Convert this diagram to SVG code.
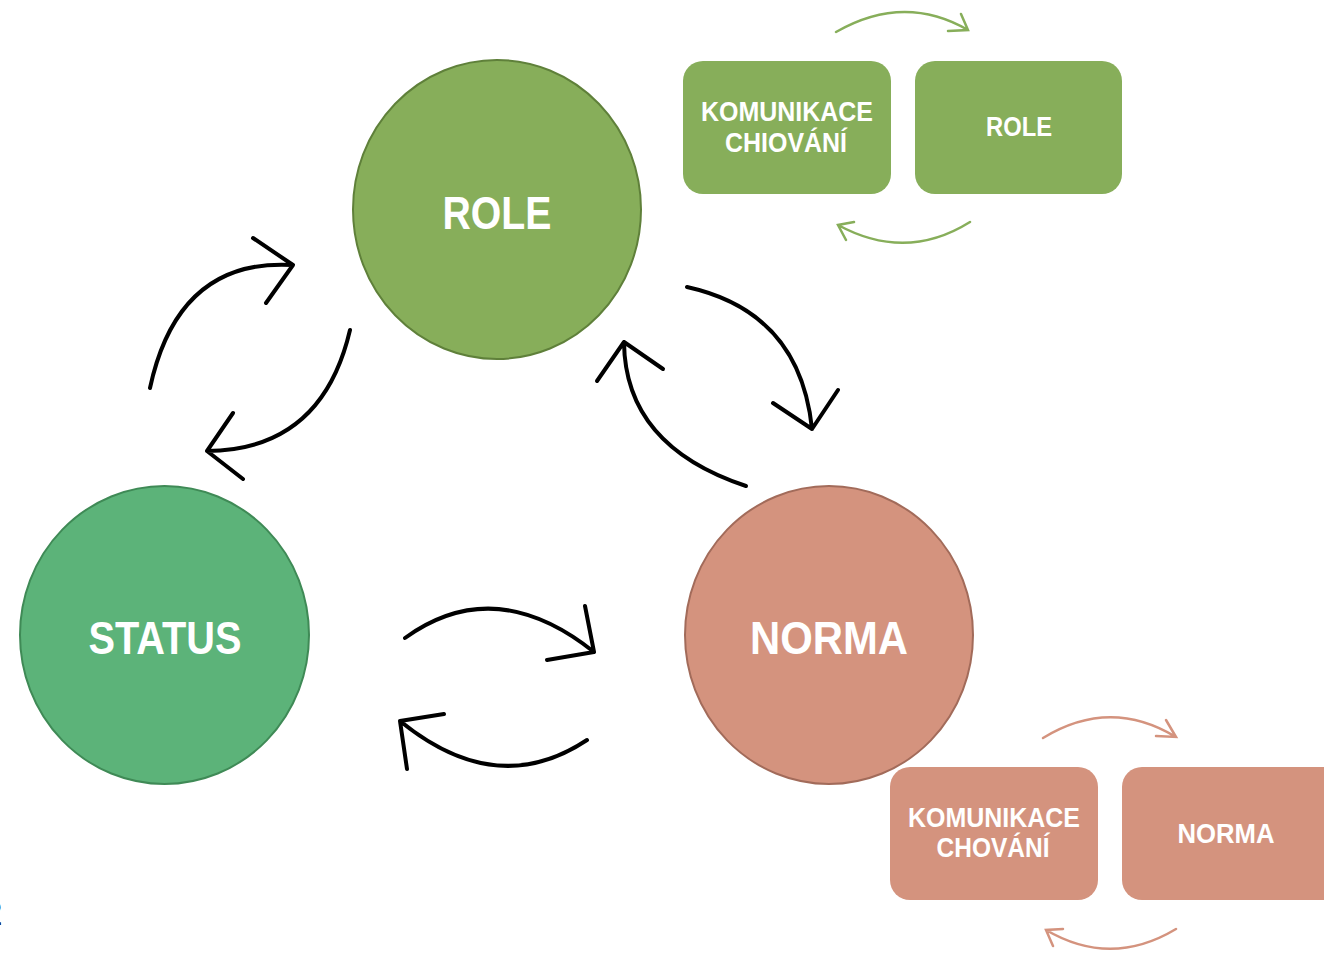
<svg xmlns="http://www.w3.org/2000/svg" width="1324" height="957" viewBox="0 0 1324 957">
<style>
.lbl{font-family:"Liberation Sans",Arial,sans-serif;font-weight:bold;fill:#ffffff;text-anchor:middle}
.big{font-size:46px}
.sm{font-size:27px}
.blk{fill:none;stroke:#000;stroke-width:4;stroke-linecap:round;stroke-linejoin:round}
.grn{fill:none;stroke:#87AE5A;stroke-width:2.5;stroke-linecap:round}
.sal{fill:none;stroke:#D4937E;stroke-width:2.5;stroke-linecap:round}
</style>
<rect width="1324" height="957" fill="#ffffff"/>
<text x="-17" y="925" font-family="Liberation Sans,Arial,sans-serif" font-size="35" fill="#000">2</text>
<g id="role">
<ellipse cx="497" cy="209.5" rx="144" ry="149.5" fill="#87AE5A" stroke="#5F803A" stroke-width="2"/>
<text class="lbl big" x="497" y="229" textLength="109" lengthAdjust="spacingAndGlyphs">ROLE</text>
</g>
<g id="status">
<ellipse cx="164.5" cy="635" rx="144.5" ry="149" fill="#5CB379" stroke="#3F8A56" stroke-width="2"/>
<text class="lbl big" x="165" y="654" textLength="153" lengthAdjust="spacingAndGlyphs">STATUS</text>
</g>
<g id="norma">
<ellipse cx="829" cy="635" rx="144" ry="149" fill="#D4937E" stroke="#A26B5A" stroke-width="2"/>
<text class="lbl big" x="829" y="654" textLength="158" lengthAdjust="spacingAndGlyphs">NORMA</text>
</g>
<g id="box-komunikace-role">
<rect x="683" y="61" width="208" height="133" rx="20" fill="#87AE5A"/>
<text class="lbl sm" x="787" y="121" textLength="172" lengthAdjust="spacingAndGlyphs">KOMUNIKACE</text>
<text class="lbl sm" x="786" y="152" textLength="122" lengthAdjust="spacingAndGlyphs">CHIOVÁNÍ</text>
</g>
<g id="box-role">
<rect x="915" y="61" width="207" height="133" rx="20" fill="#87AE5A"/>
<text class="lbl sm" x="1019" y="136" textLength="66" lengthAdjust="spacingAndGlyphs">ROLE</text>
</g>
<g id="box-komunikace-norma">
<rect x="890" y="767" width="208" height="133" rx="20" fill="#D4937E"/>
<text class="lbl sm" x="994" y="827" textLength="172" lengthAdjust="spacingAndGlyphs">KOMUNIKACE</text>
<text class="lbl sm" x="993" y="857" textLength="113" lengthAdjust="spacingAndGlyphs">CHOVÁNÍ</text>
</g>
<g id="box-norma">
<rect x="1122" y="767" width="220" height="133" rx="20" fill="#D4937E"/>
<text class="lbl sm" x="1226" y="843" textLength="97" lengthAdjust="spacingAndGlyphs">NORMA</text>
</g>
<g id="connectors">
<path class="blk" d="M150,388 Q178,258 293,265 M253,238 L293,265 L266,303"/>
<path class="blk" d="M350,330 Q322,450 207,451 M233,413 L207,451 L243,479"/>
<path class="blk" d="M687,287 Q800,312 812,429 M773,403 L812,429 L838,390"/>
<path class="blk" d="M746,486 Q625,446 624,342 M597,381 L624,342 L663,369"/>
<path class="blk" d="M405,638 Q495,573 594,652 M547,660 L594,652 L585,606"/>
<path class="blk" d="M587,740 Q497,800 400,721 M444,714 L400,721 L407,769"/>
<path class="grn" d="M836,32 Q904,-7 968,30 M948,31 L968,30 L961,14"/>
<path class="grn" d="M970,222 Q906,262 838,225 M854,222 L838,225 L846,240"/>
<path class="sal" d="M1043,738 Q1110,697 1176,737 M1156,736 L1176,737 L1166,720"/>
<path class="sal" d="M1176,929 Q1111,968 1046,930 M1063,929 L1046,930 L1053,946"/>
</g>
</svg>
